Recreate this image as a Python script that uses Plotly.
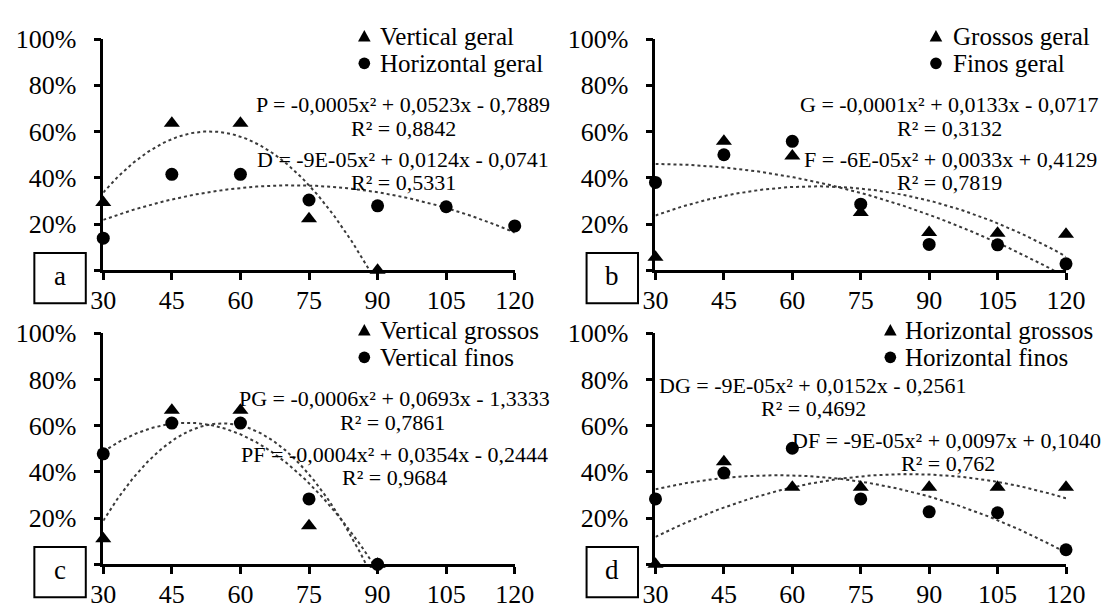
import numpy as np
import plotly.graph_objects as go

# Days after sowing (x) and fraction of seeds in each class (y)
dias = [30, 45, 60, 75, 90, 105, 120]
dias_vert = [30, 45, 60, 75, 90]

# Panel a
vertical_geral = [0.293, 0.636, 0.636, 0.223, 0.0]
horizontal_geral = [0.139, 0.415, 0.415, 0.304, 0.279, 0.275, 0.192]
# Panel b
grossos_geral = [0.056, 0.558, 0.495, 0.250, 0.163, 0.160, 0.156]
finos_geral = [0.380, 0.500, 0.558, 0.286, 0.112, 0.110, 0.028]
# Panel c
vertical_grossos = [0.111, 0.667, 0.667, 0.167, 0.0]
vertical_finos = [0.478, 0.611, 0.611, 0.283, 0.0]
# Panel d
horizontal_grossos = [0.0, 0.444, 0.333, 0.333, 0.333, 0.333, 0.333]
horizontal_finos = [0.283, 0.395, 0.502, 0.283, 0.227, 0.223, 0.063]

x_ticks = [30, 45, 60, 75, 90, 105, 120]
y_ticks = [0, 0.2, 0.4, 0.6, 0.8, 1.0]
y_ticktext = ["", "20%", "40%", "60%", "80%", "100%"]

W, H = 1119, 609
FONT = "Liberation Serif"
TREND = "#3a3a3a"


def px(x):
    return x / W


def py(y):
    return 1 - y / H


# plot areas (left, right, top, bottom) in pixels
areas = {
    "a": (93, 517, 26, 265),
    "b": (662, 1085, 26, 265),
    "c": (93, 517, 330, 569),
    "d": (662, 1085, 330, 569),
}

panels = [
    # key, axis suffix, series (x, y, name, symbol), legend (marker x, text x),
    # equation labels (text, centre x, centre y)
    ("a", "",
     [(dias_vert, vertical_geral, "Vertical geral", "triangle-up"),
      (dias, horizontal_geral, "Horizontal geral", "circle")],
     (362, 376),
     [("P = -0,0005x² + 0,0523x - 0,7889", 402, 94),
      ("R² = 0,8842", 402, 118),
      ("D = -9E-05x² + 0,0124x - 0,0741", 402, 150),
      ("R² = 0,5331", 402, 174)]),
    ("b", "2",
     [(dias, grossos_geral, "Grossos geral", "triangle-up"),
      (dias, finos_geral, "Finos geral", "circle")],
     (951, 966),
     [("G = -0,0001x² + 0,0133x - 0,0717", 964, 94),
      ("R² = 0,3132", 965, 118),
      ("F = -6E-05x² + 0,0033x + 0,4129", 966, 150),
      ("R² = 0,7819", 965, 174)]),
    ("c", "3",
     [(dias_vert, vertical_grossos, "Vertical grossos", "triangle-up"),
      (dias_vert, vertical_finos, "Vertical finos", "circle")],
     (362, 376),
     [("PG = -0,0006x² + 0,0693x - 1,3333", 393, 398),
      ("R² = 0,7861", 391, 422),
      ("PF = -0,0004x² + 0,0354x - 0,2444", 393, 455),
      ("R² = 0,9684", 393, 479)]),
    ("d", "4",
     [(dias, horizontal_grossos, "Horizontal grossos", "triangle-up"),
      (dias, horizontal_finos, "Horizontal finos", "circle")],
     (904, 917),
     [("DG = -9E-05x² + 0,0152x - 0,2561", 824, 384),
      ("R² = 0,4692", 825, 408),
      ("DF = -9E-05x² + 0,0097x + 0,1040", 962, 441),
      ("R² = 0,762", 963, 465)]),
]

fig = go.Figure()
annotations = []
shapes = []
layout = {}


def text_note(text, x, y, size, xanchor="center"):
    return dict(text=text, x=px(x), y=py(y), xref="paper", yref="paper",
                xanchor=xanchor, yanchor="middle", showarrow=False,
                font=dict(family=FONT, size=size, color="black"))


for key, sfx, series, (mx, tx), eqs in panels:
    xa, ya = "x" + sfx, "y" + sfx
    left, right, top, bottom = areas[key]

    # second-order polynomial trendlines fitted to each series
    for xs, ys, name, sym in series:
        coef = np.polyfit(xs, ys, 2)
        xf = np.linspace(min(xs), max(xs), 200)
        fig.add_trace(go.Scatter(
            x=xf, y=np.polyval(coef, xf), mode="lines", xaxis=xa, yaxis=ya,
            line=dict(color=TREND, width=2, dash="dot"),
            showlegend=False, hoverinfo="skip"))

    for xs, ys, name, sym in series:
        fig.add_trace(go.Scatter(
            x=xs, y=ys, mode="markers", name=name, xaxis=xa, yaxis=ya,
            cliponaxis=False, showlegend=False,
            marker=dict(symbol=sym, color="black",
                        size=14 if sym == "triangle-up" else 13)))

    axis_common = dict(showline=True, linecolor="black", linewidth=2.5,
                       ticks="outside", ticklen=7, tickwidth=2.5,
                       tickcolor="black", showgrid=False, zeroline=False,
                       tickfont=dict(family=FONT, size=26, color="black"))
    layout["xaxis" + sfx] = dict(
        domain=[px(left), px(right)], range=[30, 120], tickvals=x_ticks,
        anchor=ya, ticklabelstandoff=-2, **axis_common)
    layout["yaxis" + sfx] = dict(
        domain=[py(bottom), py(top)], range=[0, 1], tickvals=y_ticks,
        ticktext=y_ticktext, anchor=xa, ticklabelstandoff=12, **axis_common)

    # legend: triangle and circle keys with their series names
    row1 = top - 3
    row2 = top + 25
    shapes.append(dict(
        type="path", xref="paper", yref="paper",
        path="M {} {} L {} {} L {} {} Z".format(
            px(mx - 6.5), py(row1 + 5.5), px(mx + 6.5), py(row1 + 5.5),
            px(mx), py(row1 - 6.5)),
        fillcolor="black", line=dict(color="black", width=0)))
    shapes.append(dict(
        type="circle", xref="paper", yref="paper",
        x0=px(mx - 6), x1=px(mx + 6), y0=py(row2 + 6), y1=py(row2 - 6),
        fillcolor="black", line=dict(color="black", width=0)))
    annotations.append(text_note(series[0][2], tx, row1, 25, "left"))
    annotations.append(text_note(series[1][2], tx, row2, 25, "left"))

    for text, cx, cy in eqs:
        annotations.append(text_note(text, cx, cy, 22))

    # panel letter box
    bx0, bx1 = left - 71, left - 18
    by0, by1 = bottom - 18, bottom + 34
    shapes.append(dict(type="rect", xref="paper", yref="paper",
                       x0=px(bx0), x1=px(bx1), y0=py(by1), y1=py(by0),
                       line=dict(color="black", width=2),
                       fillcolor="white"))
    annotations.append(text_note(key, (bx0 + bx1) / 2, (by0 + by1) / 2 - 2, 27))

fig.update_layout(
    width=W, height=H, margin=dict(l=0, r=0, t=0, b=0),
    paper_bgcolor="white", plot_bgcolor="white", showlegend=False,
    annotations=annotations, shapes=shapes, **layout)

fig.write_html("out.html")
